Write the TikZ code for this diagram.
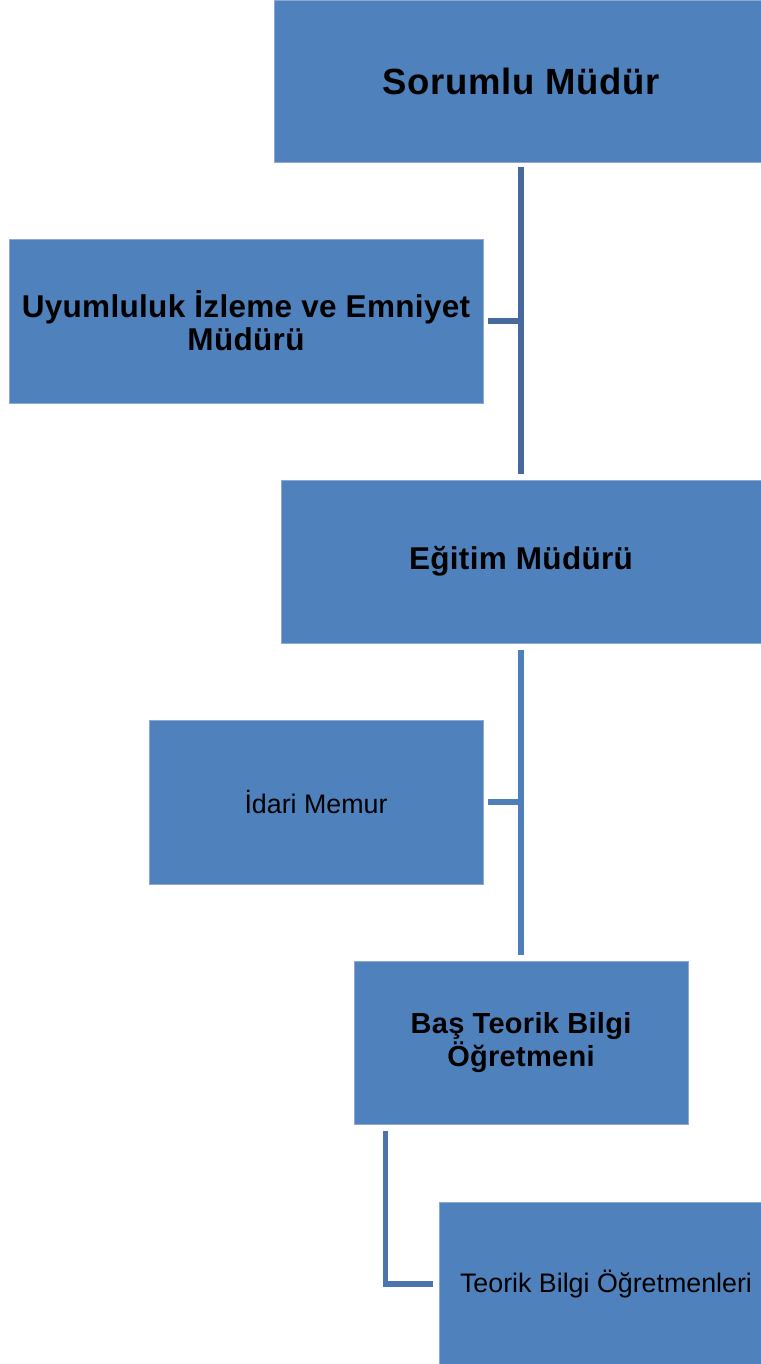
\documentclass[tikz,border=0pt]{standalone}
\usepackage{fontspec}
\setmainfont{Liberation Sans}
\newfontfamily\tbold[LetterSpace=1]{Liberation Sans}
\newfontfamily\ttop[LetterSpace=2]{Liberation Sans}
\definecolor{boxblue}{HTML}{4F81BD}
\definecolor{boxedge}{HTML}{8DA9D2}
\definecolor{lineA}{HTML}{466A9E}
\definecolor{lineB}{HTML}{4F7FBB}
\definecolor{lineC}{HTML}{4B74AC}
\begin{document}
\begin{tikzpicture}[x=1pt,y=-1pt,
  orgbox/.style={draw=boxedge, line width=0.7pt, fill=boxblue, rectangle, inner sep=0pt, align=center, text=black},
  boldtxt/.style={font=\tbold\bfseries\fontsize{31.5}{33}\selectfont},
  boldsmall/.style={font=\tbold\bfseries\fontsize{29}{33}\selectfont},
  toptxt/.style={font=\ttop\bfseries\fontsize{36.5}{42}\selectfont},
  regtxt/.style={font=\fontsize{26.8}{30}\selectfont},
  conn/.style={line width=5.5pt, line cap=butt, line join=miter}]
\useasboundingbox (0,0) rectangle (760,1364);
\fill[white] (0,0) rectangle (760,1364);
% boxes
\node[orgbox, toptxt, minimum width=494pt, minimum height=162pt] (sm) at (521,81) {Sorumlu Müdür};
\node[orgbox, boldtxt, minimum width=474pt, minimum height=164pt] (uy) at (246,321) {Uyumluluk İzleme ve Emniyet\\Müdürü};
\node[orgbox, boldtxt, minimum width=480pt, minimum height=163pt] (em) at (521,561.5) {Eğitim Müdürü};
\node[orgbox, regtxt, minimum width=334pt, minimum height=164pt] (im) at (316,802) {İdari Memur};
\node[orgbox, boldsmall, minimum width=334pt, minimum height=163pt] (bt) at (521,1042.5) {Baş Teorik Bilgi\\Öğretmeni};
\node[orgbox, regtxt, minimum width=334pt, minimum height=164pt] (to) at (606,1284) {Teorik Bilgi Öğretmenleri};
% connectors
\coordinate (c1t) at ([yshift=-5pt]sm.south);
\coordinate (c1b) at ([yshift=6pt]em.north);
\draw[conn, lineA] (c1t) -- (c1b);
\draw[conn, lineA] ([xshift=5pt]uy.east) -- ([xshift=2.75pt]uy.east -| c1t);
\coordinate (c2t) at ([yshift=-7pt]em.south);
\coordinate (c2b) at ([yshift=6pt]bt.north);
\draw[conn, lineB] (c2t) -- (c2b);
\draw[conn, lineB] ([xshift=5pt]im.east) -- ([xshift=2.75pt]im.east -| c2t);
\coordinate (c3t) at ([xshift=-135.5pt, yshift=-7pt]bt.south);
\draw[conn, lineC] (c3t) |- ([xshift=-6pt]to.west);
\end{tikzpicture}
\end{document}
